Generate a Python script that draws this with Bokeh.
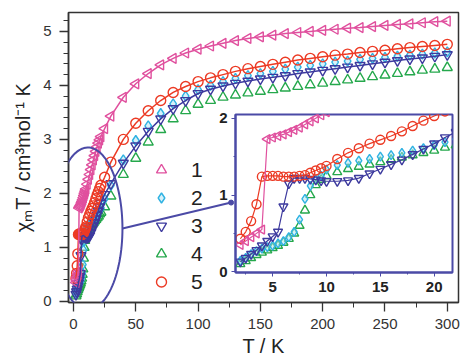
import numpy as np
from bokeh.plotting import figure
from bokeh.models import Range1d, Legend, LegendItem, PolyAnnotation, FixedTicker
from bokeh.layouts import column
from bokeh.embed import file_html
from bokeh.resources import INLINE

# ---------------- data ----------------
T_K = [2, 2.5, 3, 3.5, 4, 4.5, 5, 5.5, 6, 6.5, 7, 7.5, 8, 8.5, 9, 9.5, 10,
       11, 12, 13, 14, 15, 16, 17, 18, 19, 20, 21, 22,
       25, 30, 40, 50, 60, 70, 80, 90, 100, 110, 120, 130, 140, 150, 160,
       170, 180, 190, 200, 210, 220, 230, 240, 250, 260, 270, 280, 290, 300]

chiT_1 = [0.35, 0.40, 0.45, 0.50, 0.55, 1.73, 1.75, 1.77, 1.79, 1.82, 1.85, 1.88, 1.92, 1.96, 2.00, 2.04, 2.08,
          2.17, 2.26, 2.35, 2.44, 2.53, 2.62, 2.70, 2.78, 2.86, 2.93, 2.99, 3.05,
          3.20, 3.43, 3.78, 4.03, 4.22, 4.38, 4.50, 4.60, 4.67, 4.73, 4.78, 4.83, 4.87, 4.90, 4.93,
          4.96, 4.98, 5.00, 5.02, 5.04, 5.06, 5.07, 5.09, 5.11, 5.13, 5.14, 5.16, 5.18, 5.19]

chiT_2 = [0.14, 0.18, 0.23, 0.27, 0.30, 0.32, 0.34, 0.37, 0.40, 0.45, 0.52, 0.68, 0.95, 1.12, 1.20, 1.25, 1.33,
          1.39, 1.42, 1.45, 1.47, 1.50, 1.52, 1.55, 1.58, 1.61, 1.65, 1.69, 1.73,
          1.90, 2.15, 2.62, 2.98, 3.25, 3.48, 3.66, 3.80, 3.92, 4.00, 4.07, 4.13, 4.18, 4.22, 4.26,
          4.30, 4.34, 4.37, 4.40, 4.43, 4.45, 4.48, 4.50, 4.52, 4.54, 4.56, 4.58, 4.60, 4.62]

chiT_3 = [0.13, 0.18, 0.23, 0.28, 0.34, 0.40, 0.46, 0.52, 0.85, 1.15, 1.22, 1.22, 1.22, 1.21, 1.20, 1.19, 1.18,
          1.18, 1.19, 1.22, 1.28, 1.34, 1.40, 1.46, 1.53, 1.60, 1.67, 1.75, 1.82,
          1.98, 2.18, 2.56, 2.88, 3.15, 3.38, 3.57, 3.72, 3.85, 3.93, 3.99, 4.04, 4.08, 4.12, 4.15,
          4.18, 4.22, 4.25, 4.28, 4.31, 4.34, 4.37, 4.40, 4.43, 4.46, 4.49, 4.51, 4.54, 4.57]

chiT_4 = [0.10, 0.14, 0.18, 0.22, 0.25, 0.28, 0.31, 0.34, 0.38, 0.43, 0.50, 0.60, 0.80, 1.00, 1.13, 1.20, 1.25,
          1.30, 1.34, 1.37, 1.40, 1.43, 1.46, 1.49, 1.52, 1.55, 1.58, 1.62, 1.65,
          1.75, 1.95, 2.35, 2.65, 2.95, 3.18, 3.38, 3.53, 3.65, 3.72, 3.78, 3.82, 3.86, 3.89, 3.92,
          3.95, 3.98, 4.01, 4.04, 4.07, 4.10, 4.13, 4.16, 4.19, 4.22, 4.25, 4.28, 4.30, 4.33]

chiT_5 = [0.43, 0.52, 0.66, 0.88, 1.24, 1.25, 1.25, 1.25, 1.24, 1.24, 1.24, 1.25, 1.26, 1.29, 1.32, 1.35, 1.38,
          1.47, 1.55, 1.61, 1.67, 1.72, 1.77, 1.83, 1.90, 1.97, 2.03, 2.09, 2.15,
          2.30, 2.58, 3.00, 3.30, 3.53, 3.72, 3.87, 3.98, 4.07, 4.14, 4.20, 4.26, 4.31, 4.35, 4.39,
          4.43, 4.47, 4.50, 4.53, 4.56, 4.58, 4.61, 4.63, 4.65, 4.68, 4.70, 4.72, 4.74, 4.76]

series_labels = ["1", "2", "3", "4", "5"]

main_xticks = [0, 50, 100, 150, 200, 250, 300]
main_yticks = [0, 1, 2, 3, 4, 5]
inset_xticks = [5, 10, 15, 20]
inset_yticks = [0, 1, 2]

# ---------------- styles ----------------
PINK = "#e0509e"
CYAN = "#2fb2e2"
BLUE = "#3d3a9e"
GREEN = "#25a84c"
RED = "#ec3a24"
FRAME = "#4b4aa6"
FONT = "Liberation Sans"
AXC = "#333333"

# (series values, marker, color, angle, fill_color, fill_alpha, with line)
styles = {
    "4": (chiT_4, "triangle", GREEN, 0.0, GREEN, 0.0, False),
    "2": (chiT_2, "diamond", CYAN, 0.0, "#aee3f5", 0.5, False),
    "3": (chiT_3, "inverted_triangle", BLUE, 0.0, BLUE, 0.0, True),
    "5": (chiT_5, "circle", RED, 0.0, RED, 0.0, True),
    "1": (chiT_1, "triangle", PINK, np.pi / 2, PINK, 0.0, True),
}
draw_order = ["4", "2", "3", "5", "1"]

# ---------------- main figure ----------------
p = figure(width=460, height=360, x_range=Range1d(-4, 309), y_range=Range1d(-0.02, 5.35),
           output_backend="svg", toolbar_location=None,
           min_border_left=68, min_border_right=2, min_border_top=12, min_border_bottom=58)
p.frame_align = False
p.grid.visible = False
p.outline_line_color = AXC
p.outline_line_width = 1.5
p.background_fill_color = "white"

p.xaxis.ticker = FixedTicker(ticks=main_xticks, minor_ticks=[25, 75, 125, 175, 225, 275])
p.yaxis.ticker = FixedTicker(ticks=main_yticks, minor_ticks=[i / 5 for i in range(0, 27)])
for ax in (p.xaxis[0], p.yaxis[0]):
    ax.axis_line_color = AXC
    ax.axis_line_width = 1.5
    ax.major_tick_line_color = AXC
    ax.minor_tick_line_color = AXC
    ax.major_tick_line_width = 1.3
    ax.minor_tick_line_width = 1.0
    ax.major_tick_out = 9
    ax.major_tick_in = 0
    ax.minor_tick_out = 5
    ax.minor_tick_in = 0
    ax.major_label_text_font = FONT
    ax.major_label_text_font_size = "15px"
    ax.major_label_text_color = "#333333"
    ax.axis_label_text_font = FONT
    ax.axis_label_text_font_size = "20px"
    ax.axis_label_text_font_style = "normal"
    ax.axis_label_text_color = "#222222"
p.xaxis.major_label_standoff = 7
p.yaxis.major_label_standoff = 8
p.xaxis.axis_label = "T / K"
p.xaxis.axis_label_standoff = 3
p.yaxis.axis_label = "χₘT / cm³mol⁻¹ K"
p.yaxis.axis_label_standoff = 6

renderers = {}
for key in draw_order:
    vals, marker, col, ang, fcol, falpha, _ = styles[key]
    renderers[key] = p.scatter(T_K, vals, marker=marker, size=10, angle=ang, line_color=col,
                               line_width=1.4, fill_color=fcol, fill_alpha=falpha)
for key in draw_order:
    vals, marker, col, ang, fcol, falpha, wl = styles[key]
    if wl:
        p.line(T_K, vals, line_color=col, line_width=1.5)

# ellipse around the low-temperature region and connector to the inset
t = np.linspace(0, 2 * np.pi, 120)
ell = PolyAnnotation(xs=list(11.6 + 27.7 * np.cos(t)), ys=list(1.35 + 1.5 * np.sin(t)),
                     fill_alpha=0, line_color=FRAME, line_alpha=1.0, line_width=2)
p.add_layout(ell)
p.segment(x0=[39.3], y0=[1.35], x1=[126.5], y1=[1.83], line_color=FRAME, line_width=2)
p.scatter([126.5], [1.83], size=5, color=FRAME)

legend = Legend(items=[LegendItem(label=k, renderers=[renderers[k]]) for k in series_labels],
                location=(78, 8), orientation="vertical",
                glyph_width=30, glyph_height=25, label_height=25, spacing=3,
                padding=0, margin=0, label_standoff=15,
                label_text_font=FONT, label_text_font_size="21px", label_text_color="#222222",
                border_line_alpha=0, background_fill_alpha=0)
p.add_layout(legend)

# ---------------- inset figure ----------------
inset = figure(width=247, height=194, x_range=Range1d(1.55, 21.7), y_range=Range1d(-0.01, 2.05),
               output_backend="svg", toolbar_location=None,
               min_border_left=28, min_border_right=2, min_border_top=10, min_border_bottom=26)
inset.frame_align = False
inset.grid.visible = False
inset.border_fill_alpha = 0
inset.background_fill_color = "white"
inset.outline_line_color = FRAME
inset.outline_line_width = 2
inset.xaxis.ticker = FixedTicker(ticks=inset_xticks, minor_ticks=[2.5, 7.5, 12.5, 17.5])
inset.yaxis.ticker = FixedTicker(ticks=inset_yticks, minor_ticks=[0.5, 1.5])
for ax in (inset.xaxis[0], inset.yaxis[0]):
    ax.axis_line_color = FRAME
    ax.axis_line_width = 2
    ax.major_tick_line_color = FRAME
    ax.minor_tick_line_color = FRAME
    ax.major_tick_out = 4
    ax.major_tick_in = 0
    ax.minor_tick_out = 2
    ax.minor_tick_in = 0
    ax.major_label_text_font = FONT
    ax.major_label_text_font_size = "15px"
    ax.major_label_text_font_style = "bold"
    ax.major_label_text_color = "#222222"
inset.xaxis.major_label_standoff = 5
inset.yaxis.major_label_standoff = 4

for key in draw_order:
    vals, marker, col, ang, fcol, falpha, _ = styles[key]
    inset.scatter(T_K, vals, marker=marker, size=9, angle=ang, line_color=col,
                  line_width=1.4, fill_color=fcol, fill_alpha=falpha)
for key in draw_order:
    vals, marker, col, ang, fcol, falpha, wl = styles[key]
    if wl:
        inset.line(T_K, vals, line_color=col, line_width=1.2)

inset.styles = {"position": "absolute", "left": "207px", "top": "104px", "z-index": "5"}

layout = column(p, inset)
open("out.html", "w").write(file_html(layout, INLINE))
